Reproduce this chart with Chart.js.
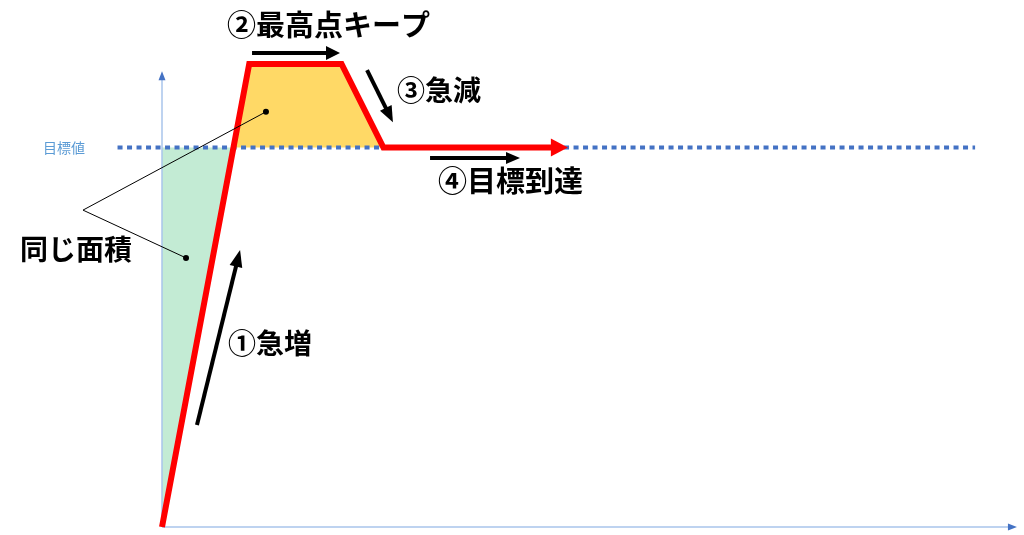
<!DOCTYPE html>
<html><head><meta charset="utf-8">
<script src="https://cdn.jsdelivr.net/npm/chart.js@4.4.1/dist/chart.umd.min.js"></script>
<style>html,body{margin:0;padding:0;background:#fff;} canvas{display:block;}</style>
</head><body>
<canvas id="c" width="1024" height="535"></canvas>
<script>
// ---- data (x: time units, y: value units; target = 100) ----
const TARGET = 100;
const yTickValues = [100];
const yTickLabels = ['目標値'];

const redX = [0, 10.2, 21, 25.9, 45.6];
const redY = [0, 122, 122, 100, 100];

const targetX = [-5.2, 95.1];
const targetY = [100, 100];

const greenX = [0, 8.36];
const greenY = [0, 100];

const orangeX = [8.36, 10.2, 21, 25.9];
const orangeY = [100, 122, 122, 100];

const arrow1X = [4.09, 8.68],  arrow1Y = [26.9, 68.9];
const arrow2X = [10.53, 19.3], arrow2Y = [124.9, 124.9];
const arrow3X = [23.98, 26.23], arrow3Y = [120.4, 110.2];
const arrow4X = [31.35, 40.35], arrow4Y = [97.2, 97.2];

const calloutX = [12.16, -9.24, 2.81];
const calloutY = [109.4, 83.5, 70.9];

const yAxisX = [0, 0],    yAxisY = [0, 118.0];
const xAxisX = [0, 99.06], xAxisY = [0, 0];

const noteTexts = ['①急増', '②最高点キープ', '③急減', '④目標到達', '同じ面積'];

// ---- layout of annotation texts (pixels) ----
const notePos = [
  {x: 228, y: 343, size: 28},
  {x: 227, y: 25, size: 29},
  {x: 397, y: 90, size: 28},
  {x: 438, y: 181, size: 29},
  {x: 20, y: 249, size: 28}
];

const pts = (xs, ys) => xs.map((x, i) => ({x, y: ys[i]}));
const FONT = '"Noto Sans CJK JP", "Noto Sans CJK SC", sans-serif';
Chart.defaults.font.family = FONT;

const base = {pointRadius: 0, tension: 0, clip: false, fill: false};

const arrowPlugin = {
  id: 'arrowHeads',
  afterDatasetsDraw(chart) {
    const ctx = chart.ctx;
    chart.data.datasets.forEach((ds, i) => {
      if (!ds.arrowHead) return;
      const el = chart.getDatasetMeta(i).data;
      const a = el[el.length - 2], b = el[el.length - 1];
      const ang = Math.atan2(b.y - a.y, b.x - a.x);
      const h = ds.arrowHead;
      ctx.save();
      ctx.translate(b.x, b.y);
      ctx.rotate(ang);
      ctx.beginPath();
      ctx.moveTo(h.length, 0);
      ctx.lineTo(-1, -h.width / 2);
      ctx.lineTo(-1, h.width / 2);
      ctx.closePath();
      ctx.fillStyle = h.color || ds.borderColor;
      ctx.fill();
      ctx.restore();
    });
  }
};

const notesPlugin = {
  id: 'notes',
  afterDraw(chart) {
    const ctx = chart.ctx;
    ctx.save();
    ctx.fillStyle = '#000';
    ctx.textAlign = 'left';
    ctx.textBaseline = 'middle';
    noteTexts.forEach((t, i) => {
      const p = notePos[i];
      ctx.font = `bold ${p.size}px ${FONT}`;
      ctx.fillText(t, p.x, p.y);
    });
    ctx.restore();
  }
};

new Chart(document.getElementById('c'), {
  type: 'line',
  data: {
    datasets: [
      // order: lower = drawn on top
      {...base, data: pts(redX, redY), borderColor: '#FF0000', borderWidth: 6,
        borderJoinStyle: 'miter', order: 2, arrowHead: {length: 16, width: 18}},
      {...base, data: pts(arrow1X, arrow1Y), borderColor: '#000', borderWidth: 4, order: 1, arrowHead: {length: 16, width: 13}},
      {...base, data: pts(arrow2X, arrow2Y), borderColor: '#000', borderWidth: 4, order: 1, arrowHead: {length: 13, width: 14}},
      {...base, data: pts(arrow3X, arrow3Y), borderColor: '#000', borderWidth: 4, order: 1, arrowHead: {length: 15, width: 13}},
      {...base, data: pts(arrow4X, arrow4Y), borderColor: '#000', borderWidth: 4, order: 1, arrowHead: {length: 13, width: 12}},
      {...base, data: pts(calloutX, calloutY), borderColor: '#000', borderWidth: 1, order: 0,
        pointRadius: [3, 0, 3], pointBackgroundColor: '#000', pointBorderWidth: 0},
      {...base, data: pts(targetX, targetY), borderColor: '#4472C4', borderWidth: 4,
        borderDash: [5, 4.5], borderCapStyle: 'butt', order: 3},
      {...base, data: pts(greenX, greenY), borderWidth: 0, borderColor: 'rgba(0,0,0,0)',
        backgroundColor: '#C3EBD4', fill: {value: TARGET}, order: 5},
      {...base, data: pts(orangeX, orangeY), borderWidth: 0, borderColor: 'rgba(0,0,0,0)',
        backgroundColor: '#FFD966', fill: {value: TARGET}, order: 5},
      {...base, data: pts(yAxisX, yAxisY), borderColor: '#A9C4EB', borderWidth: 1.5, order: 4,
        arrowHead: {length: 8, width: 7, color: '#4472C4'}},
      {...base, data: pts(xAxisX, xAxisY), borderColor: '#A9C4EB', borderWidth: 1.5, order: 4,
        arrowHead: {length: 8, width: 7, color: '#4472C4'}}
    ]
  },
  options: {
    responsive: false,
    animation: false,
    layout: {autoPadding: false, padding: {top: 64, right: 7, bottom: 8, left: 0}},
    plugins: {legend: {display: false}, tooltip: {enabled: false}},
    scales: {
      x: {type: 'linear', min: 0, max: 100, display: false},
      y: {
        type: 'linear', min: 0, max: 122, position: 'left',
        grid: {display: false, drawTicks: false},
        border: {display: false},
        afterBuildTicks: s => { s.ticks = yTickValues.map(v => ({value: v})); },
        afterFit: s => {
          s.width = 162;
          s.paddingTop = 0; s.paddingBottom = 0; s.paddingLeft = 0; s.paddingRight = 0;
        },
        ticks: {
          padding: 77, color: '#5B9BD5', font: {size: 14, family: FONT},
          callback: (v) => yTickLabels[yTickValues.indexOf(v)] ?? ''
        }
      }
    }
  },
  plugins: [arrowPlugin, notesPlugin]
});
</script>
</body></html>
